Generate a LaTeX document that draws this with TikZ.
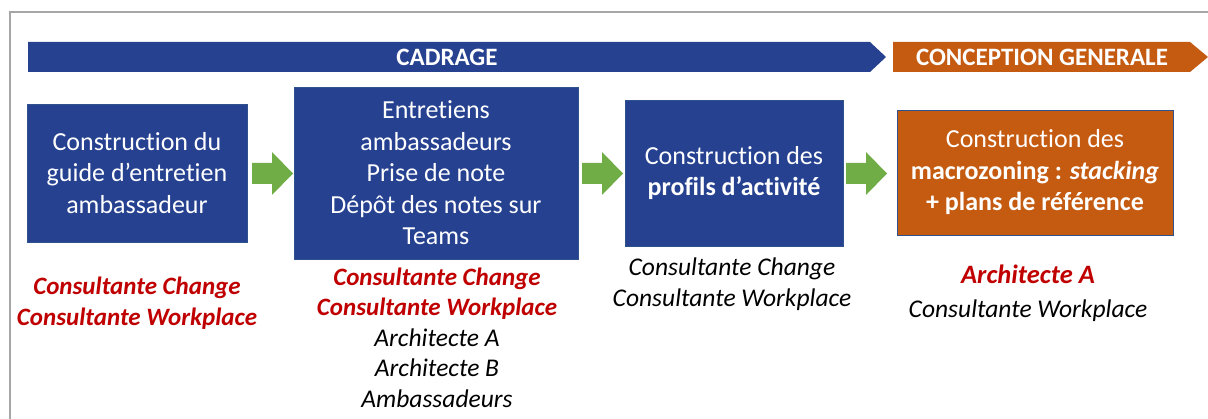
\documentclass[tikz,border=0pt]{standalone}
\usepackage{fontspec}
\setmainfont{Carlito}[Ligatures={NoCommon}]
\definecolor{boxblue}{HTML}{254190}
\definecolor{boxorange}{HTML}{C55A11}
\definecolor{arrgreen}{HTML}{70AD47}
\definecolor{labred}{HTML}{C00000}
\definecolor{edgeblue}{HTML}{2F528F}
\definecolor{framegray}{HTML}{A6A6A6}
\begin{document}
\begin{tikzpicture}[x=1pt,y=-1pt,
  procbox/.style={draw=edgeblue, line width=0.8pt, text=white, align=center, inner sep=0pt,
    font=\fontsize{26}{31.5}\selectfont},
  bannertext/.style={text=white, inner sep=0pt, font=\fontsize{25}{28}\selectfont\bfseries},
  lab/.style={align=center, inner sep=0pt, text=black, font=\fontsize{25.5}{30.5}\selectfont\itshape},
  grarrow/.pic={\fill[arrgreen] (0,-10.5) -- (20,-10.5) -- (20,-21.5) -- (41,0) -- (20,21.5) -- (20,10.5) -- (0,10.5) -- cycle;}
]
\useasboundingbox (0,0) rectangle (1208,419);
\clip (0,0) rectangle (1208,419);
\fill[white] (0,0) rectangle (1208,419);
\draw[framegray, line width=1.5pt] (10,440) -- (10,12) -- (1230,12);

% banners
\fill[boxblue] (28,42) -- (870,42) -- (886,57) -- (870,72) -- (28,72) -- cycle;
\node[bannertext] (cadrage) at (447,57) {CADRAGE};
\fill[boxorange] (893,42) -- (1190,42) -- (1208,57) -- (1190,72) -- (893,72) -- cycle;
\node[bannertext] (conception) at (1042,57) {CONCEPTION GENERALE};

% process boxes
\node[procbox, fill=boxblue, minimum width=220pt, minimum height=138pt] (b1) at (137,173)
  {Construction du\\guide d’entretien\\ambassadeur};
\node[procbox, fill=boxblue, minimum width=284pt, minimum height=172pt] (b2) at (436,173)
  {Entretiens\\ambassadeurs\\Prise de note\\Dépôt des notes sur\\Teams};
\node[procbox, fill=boxblue, minimum width=218pt, minimum height=146pt] (b3) at (734,173)
  {Construction des\\\textbf{profils d’activité}};
\node[procbox, fill=boxorange, minimum width=276pt, minimum height=125pt] (b4) at (1035,172.5)
  {Construction des\\\textbf{macrozoning : \textit{stacking}}\\\textbf{+ plans de référence}};

% green arrows
\pic (a1) at (252,173.5) {grarrow};
\pic (a2) at (582,173.5) {grarrow};
\pic (a3) at (846,173.5) {grarrow};

% labels
\node[lab, text=labred, font=\fontsize{25}{30.5}\selectfont\bfseries\itshape] (l1) at (137,303)
  {Consultante Change\\Consultante Workplace};
\node[lab] (l2) at (437,337.5)
  {\textcolor{labred}{\textbf{\fontsize{25}{30.5}\selectfont Consultante Change}}\\\textcolor{labred}{\textbf{\fontsize{25}{30.5}\selectfont Consultante Workplace}}\\Architecte A\\Architecte B\\Ambassadeurs};
\node[lab, font=\fontsize{25.5}{31.5}\selectfont\itshape] (l3) at (732,284)
  {Consultante Change\\Consultante Workplace};
\node[lab, font=\fontsize{25.5}{34}\selectfont\itshape] (l4) at (1028,293)
  {\textcolor{labred}{\textbf{\fontsize{26.5}{34}\selectfont Architecte A}}\\Consultante Workplace};
\end{tikzpicture}
\end{document}
